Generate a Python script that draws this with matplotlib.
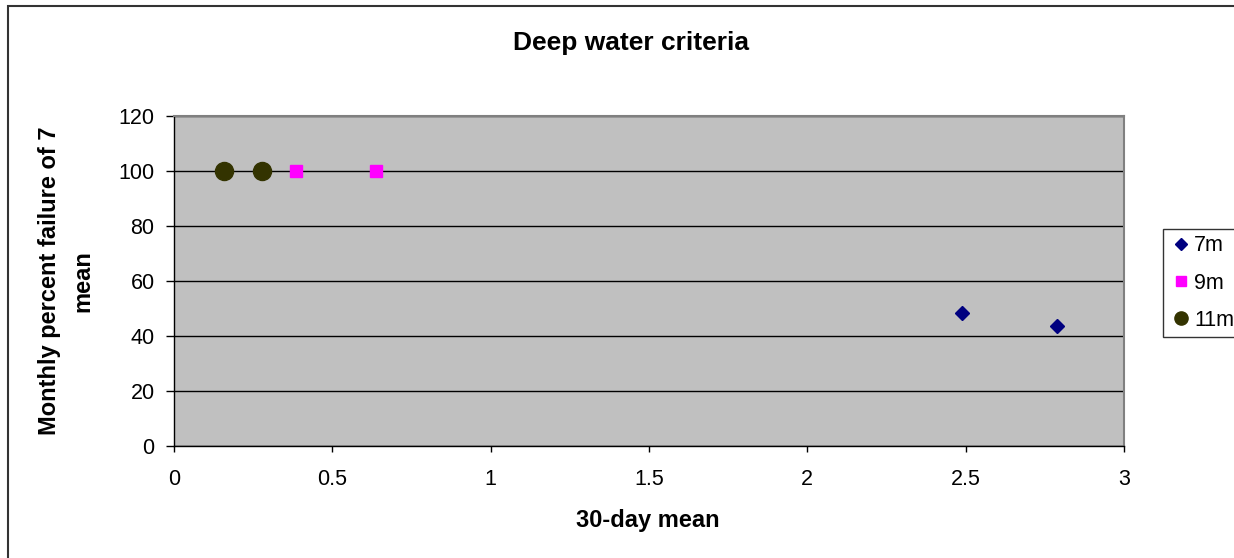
import matplotlib
matplotlib.use('Agg')
import matplotlib.pyplot as plt
from matplotlib.patches import Rectangle

plt.rcParams['font.family'] = ['Liberation Sans', 'DejaVu Sans']

# ── Data ──────────────────────────────────────────────────────
x_7m = [2.49, 2.79]
y_7m = [48.2, 43.5]
x_9m = [0.385, 0.637]
y_9m = [100, 100]
x_11m = [0.158, 0.278]
y_11m = [100, 100]

x_ticks = [0, 0.5, 1, 1.5, 2, 2.5, 3]
x_tick_labels = ['0', '0.5', '1', '1.5', '2', '2.5', '3']
y_ticks = [0, 20, 40, 60, 80, 100, 120]

W, H = 1234, 558
fig = plt.figure(figsize=(W / 100, H / 100), dpi=100)
ax = fig.add_axes([174 / W, 1 - 446 / H, 950 / W, 330 / H])
ax.set_facecolor('#C0C0C0')

ax.plot(x_7m, y_7m, linestyle='none', marker='D', markersize=7.5,
        color='#000080', label='7m', zorder=3)
ax.plot(x_9m, y_9m, linestyle='none', marker='s', markersize=8,
        color='#FF00FF', label='9m', zorder=3)
ax.plot(x_11m, y_11m, linestyle='none', marker='o', markersize=13,
        color='#333300', label='11m', zorder=3)

ax.set_xlim(0, 3)
ax.set_ylim(0, 120)
ax.set_xticks(x_ticks)
ax.set_xticklabels(x_tick_labels)
ax.set_yticks(y_ticks)
ax.tick_params(axis='x', direction='out', length=4.5, width=1,
               labelsize=15.5, pad=12)
ax.tick_params(axis='y', direction='out', length=6, width=1,
               labelsize=15.5, pad=8)
ax.yaxis.grid(True, color='black', linewidth=1)
ax.set_axisbelow(True)

for side in ['top', 'right']:
    ax.spines[side].set_color('#808080')
    ax.spines[side].set_linewidth(1.5)
for side in ['left', 'bottom']:
    ax.spines[side].set_color('black')
    ax.spines[side].set_linewidth(1)

fig.text(648 / W, 1 - 521 / H, '30-day mean', ha='center', va='center',
         fontsize=17, fontweight='bold')
fig.text(66 / W, 1 - 281 / H, 'Monthly percent failure of 7\nmean',
         ha='center', va='center', rotation=90, fontsize=17,
         fontweight='bold', linespacing=1.6)
fig.text(631 / W, 1 - 43 / H, 'Deep water criteria', ha='center',
         va='center', fontsize=19, fontweight='bold')

# outer chart frame (runs off the right and bottom edges)
fig.patches.append(Rectangle((8 / W, -0.1), 1.2, 1 - 6 / H + 0.1,
                             transform=fig.transFigure, fill=False,
                             edgecolor='#333333', linewidth=1.5))

leg = ax.legend(loc='upper left', bbox_to_anchor=(1163 / W, 1 - 229 / H),
                bbox_transform=fig.transFigure, fontsize=15.5, frameon=True,
                fancybox=False, borderaxespad=0, handletextpad=0.1,
                handlelength=1.05, labelspacing=0.75, borderpad=0.3)
leg.get_frame().set_edgecolor('black')
leg.get_frame().set_linewidth(1)
for h, ms in zip(leg.legend_handles, [6.5, 7, 9.5]):
    h.set_markersize(ms)

plt.savefig('out.png', dpi=100)
plt.close()
